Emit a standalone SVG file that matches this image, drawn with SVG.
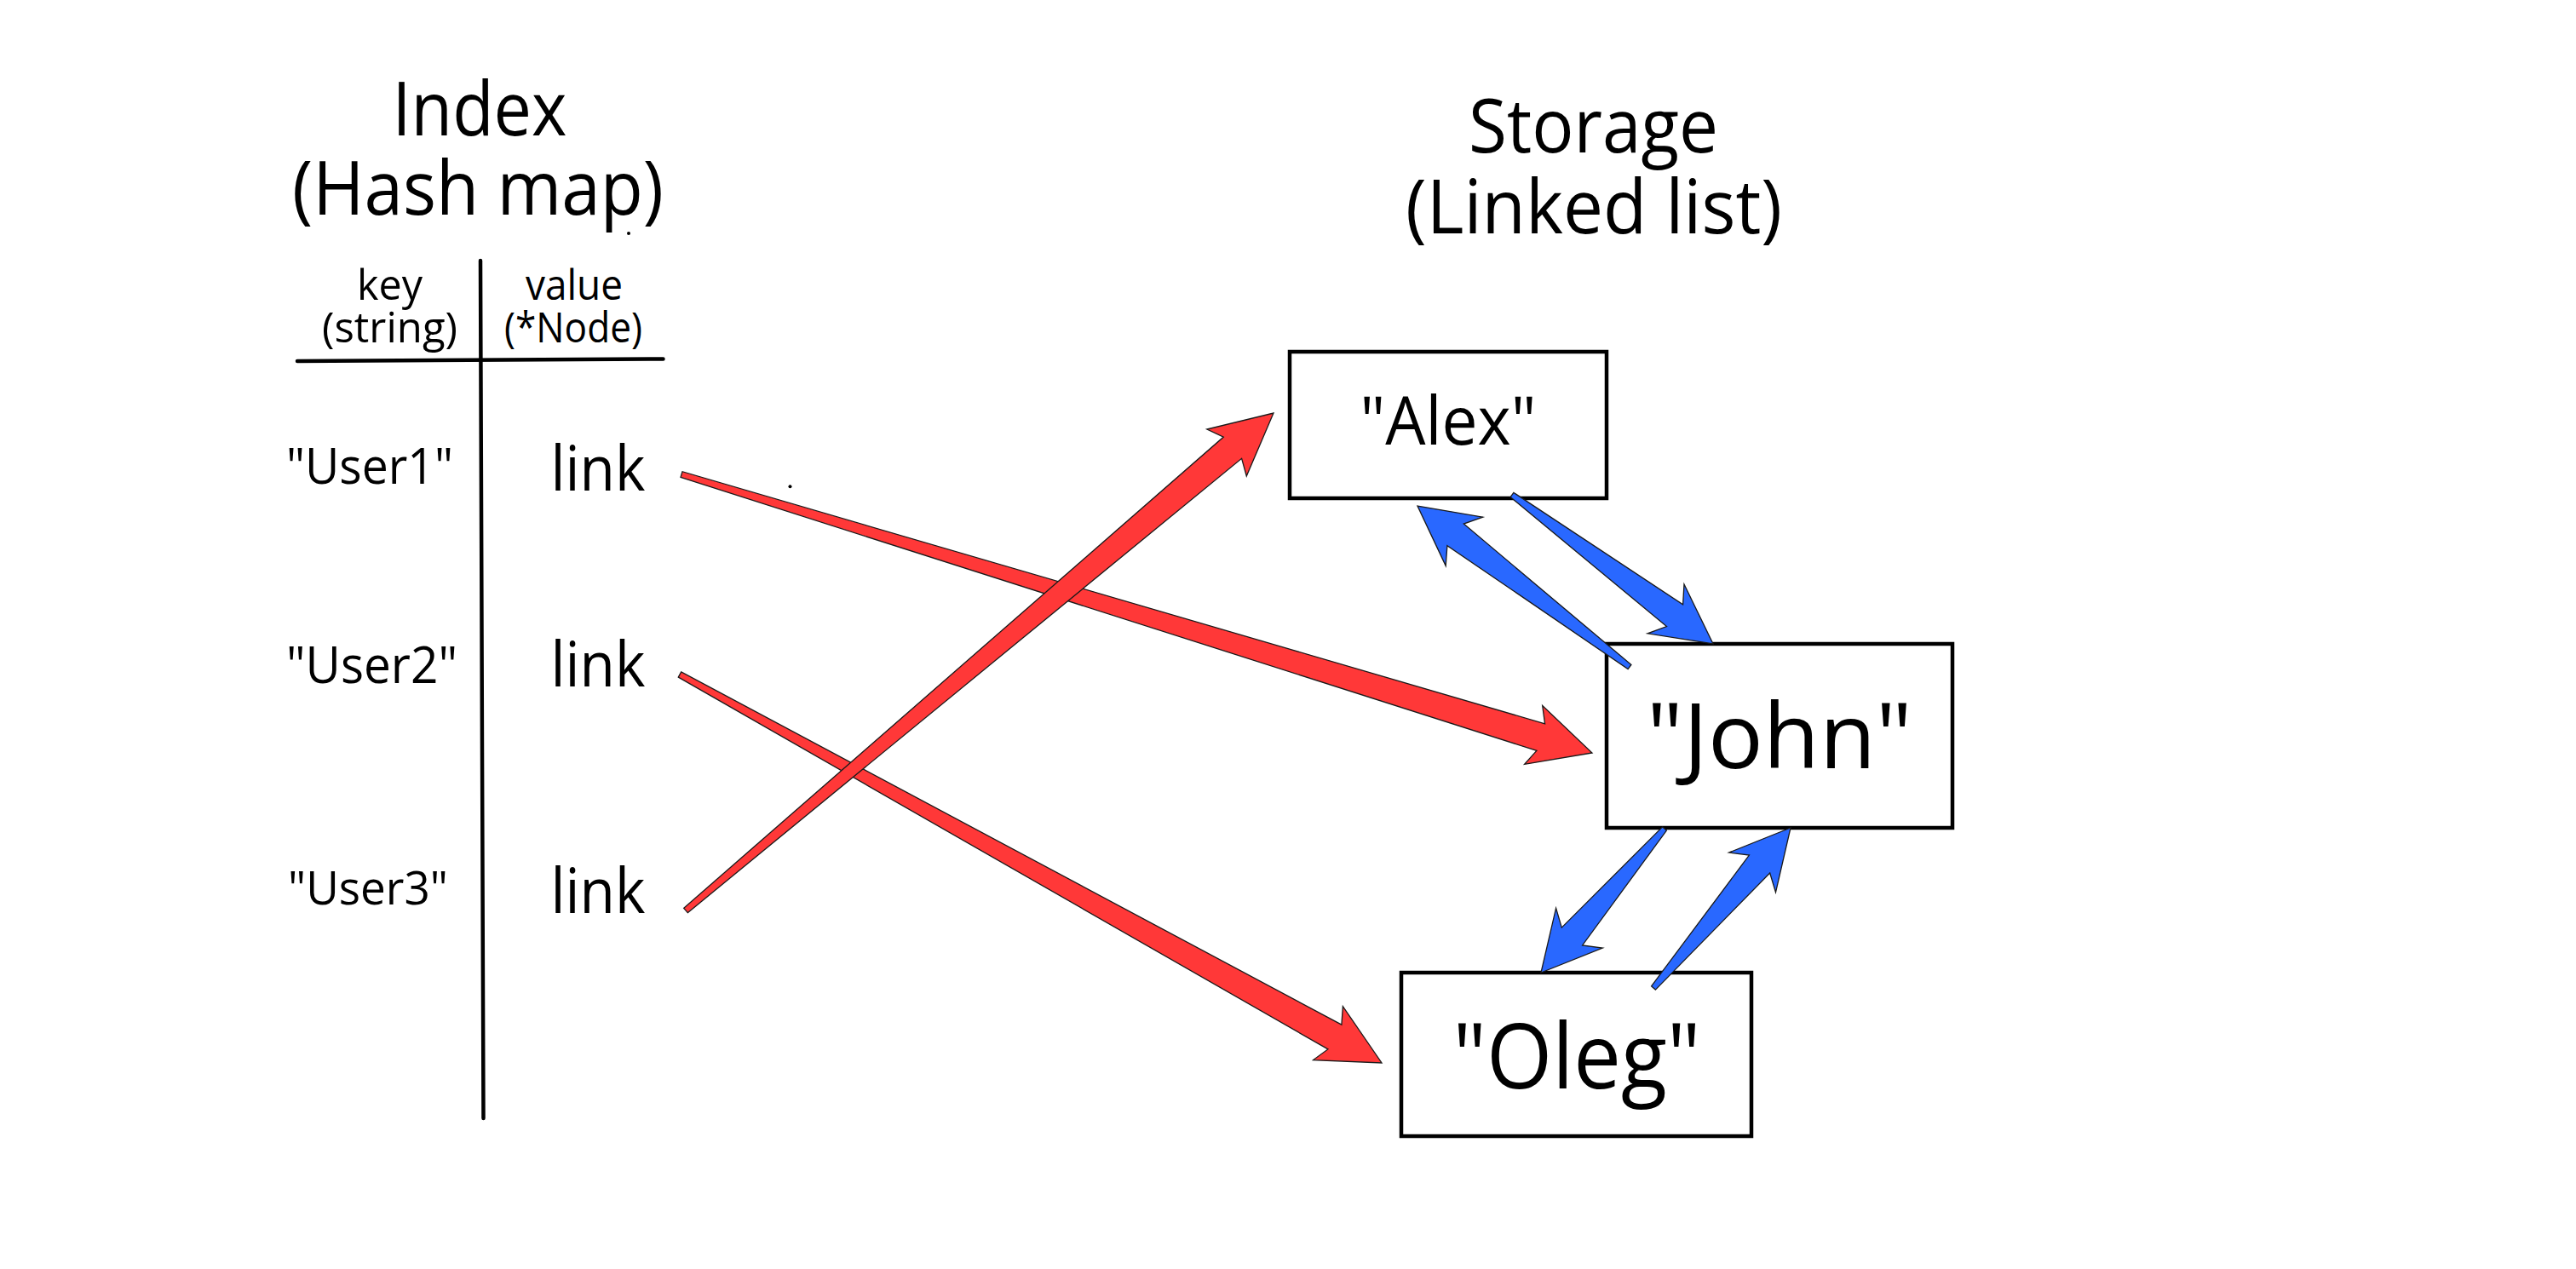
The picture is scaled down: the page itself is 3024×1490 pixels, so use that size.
<svg xmlns="http://www.w3.org/2000/svg" width="3024" height="1490" viewBox="0 0 3024 1490">
  <style>
    text { font-family: "Open Sans", "Noto Sans", "Liberation Sans", sans-serif; fill: #000; text-anchor: middle; }
    .rule { stroke: #000; stroke-width: 4.5; stroke-linecap: round; fill: none; }
    .box { fill: #fff; stroke: #000; stroke-width: 4.5; }
    .red { fill: #ff3838; stroke: #1a1a1a; stroke-width: 1.3; stroke-linejoin: miter; }
    .blue { fill: #2968ff; stroke: #1a1a1a; stroke-width: 1.3; stroke-linejoin: miter; }
    .dot { fill: #000; }
  </style>
  <rect x="0" y="0" width="3024" height="1490" fill="#fff"/>

  <g id="index-title">
    <text font-size="88"><tspan x="563" y="158.5" textLength="205" lengthAdjust="spacingAndGlyphs">Index</tspan><tspan x="561" y="252" textLength="436" lengthAdjust="spacingAndGlyphs">(Hash map)</tspan></text>
    <circle class="dot" cx="738" cy="274" r="2"/>
  </g>

  <g id="storage-title">
    <text font-size="88"><tspan x="1870.5" y="178.5" textLength="293" lengthAdjust="spacingAndGlyphs">Storage</tspan><tspan x="1871" y="274" textLength="442" lengthAdjust="spacingAndGlyphs">(Linked list)</tspan></text>
  </g>

  <g id="hash-table">
    <line class="rule" x1="564" y1="306" x2="567.5" y2="1313"/>
    <line class="rule" x1="349" y1="424" x2="778.5" y2="421.5"/>
    <text font-size="49"><tspan x="457.5" y="352" textLength="77" lengthAdjust="spacingAndGlyphs">key</tspan><tspan x="457.5" y="401.5" textLength="159" lengthAdjust="spacingAndGlyphs">(string)</tspan></text>
    <text font-size="49"><tspan x="674" y="352" textLength="114" lengthAdjust="spacingAndGlyphs">value</tspan><tspan x="673" y="401.5" textLength="162" lengthAdjust="spacingAndGlyphs">(*Node)</tspan></text>
  </g>

  <g id="row-user1">
    <text x="434" y="567.5" font-size="59" textLength="196" lengthAdjust="spacingAndGlyphs">"User1"</text>
    <text x="702" y="576" font-size="73" textLength="111" lengthAdjust="spacingAndGlyphs">link</text>
  </g>
  <g id="row-user2">
    <text x="436.5" y="802" font-size="60" textLength="201" lengthAdjust="spacingAndGlyphs">"User2"</text>
    <text x="702" y="806" font-size="73" textLength="111" lengthAdjust="spacingAndGlyphs">link</text>
  </g>
  <g id="row-user3">
    <text x="432" y="1062" font-size="55" textLength="188" lengthAdjust="spacingAndGlyphs">"User3"</text>
    <text x="702" y="1071.5" font-size="73" textLength="111" lengthAdjust="spacingAndGlyphs">link</text>
  </g>

  <g id="node-alex">
    <rect class="box" x="1514" y="413" width="372" height="172"/>
    <text x="1700" y="522" font-size="78" textLength="207" lengthAdjust="spacingAndGlyphs">"Alex"</text>
  </g>
  <g id="node-john">
    <rect class="box" x="1886" y="756" width="406" height="216"/>
    <text x="2089" y="902" font-size="107" textLength="312" lengthAdjust="spacingAndGlyphs">"John"</text>
  </g>
  <g id="node-oleg">
    <rect class="box" x="1645" y="1142" width="411" height="192"/>
    <text x="1851" y="1278" font-size="107" textLength="291" lengthAdjust="spacingAndGlyphs">"Oleg"</text>
  </g>

  <g id="connectors">
    <polygon class="red" points="799,560.4 1803.9,881.4 1789.6,897.4 1869,884 1810.7,828.5 1813.6,849.8 801,553.7"/>
    <polygon class="red" points="796.3,795.1 1558.9,1231.9 1541.6,1244.6 1622,1248 1576.4,1181.6 1574.9,1203.1 799.7,788.9"/>
    <polygon class="red" points="807.3,1071.7 1457.6,538.3 1463.3,559 1495,485 1416.8,504 1436.3,513.1 802.7,1066.3"/>
    <polygon class="blue" points="1773.1,583.6 1956.5,735.5 1934.1,743.8 2011,756 1977,686 1975.6,709.8 1776.9,578.4"/>
    <polygon class="blue" points="1914.9,780.5 1718.3,615.1 1740.7,607.1 1664,594 1697.2,664.4 1698.9,640.6 1911.1,785.6"/>
    <polygon class="blue" points="1951.6,970.9 1833.3,1089.1 1826.6,1066.2 1809,1142 1881.3,1113.1 1857.6,1109.9 1956.4,975.1"/>
    <polygon class="blue" points="1943.4,1162.1 2077.7,1025 2084.5,1047.8 2102,972 2029.8,1001 2053.4,1004.1 1938.6,1157.9"/>
    <circle class="dot" cx="927.5" cy="571.3" r="2"/>
  </g>
</svg>
